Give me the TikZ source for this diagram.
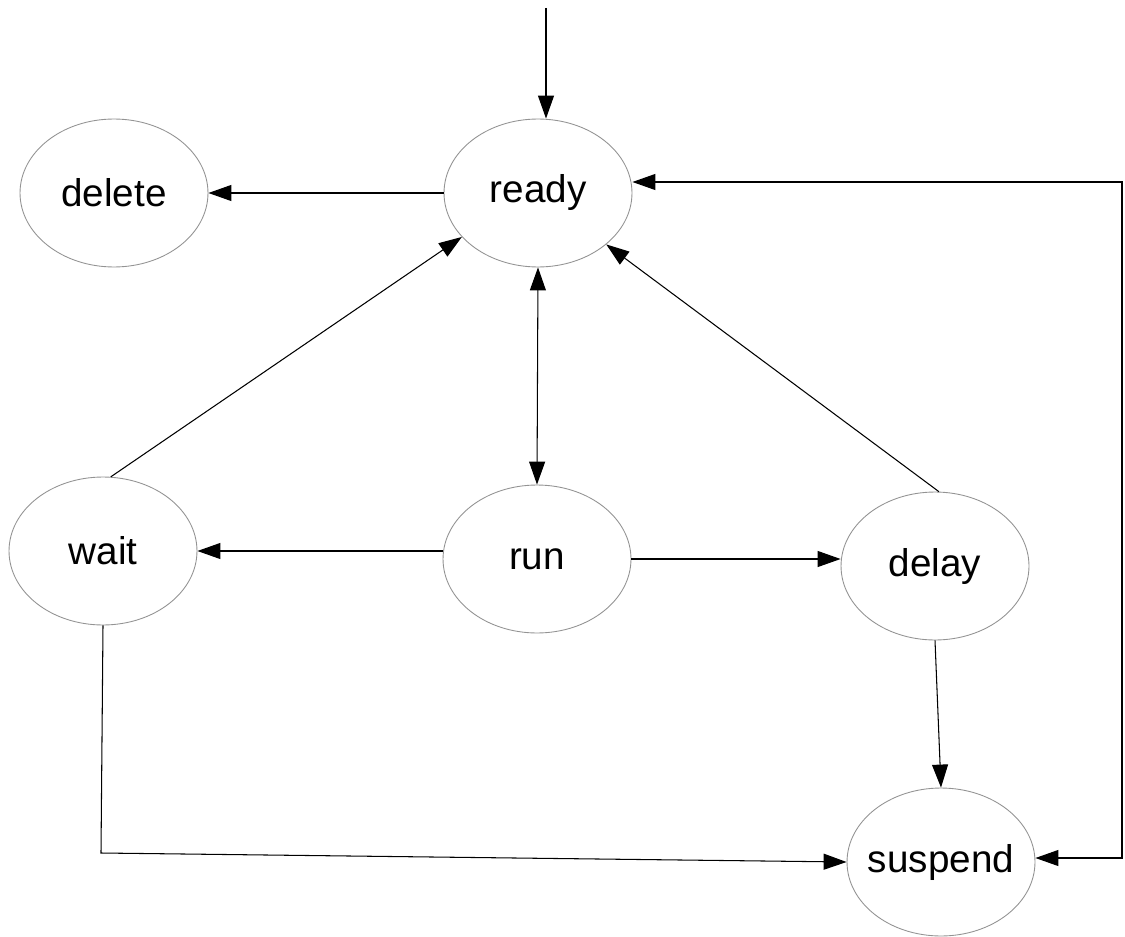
\documentclass[tikz,border=0pt]{standalone}
\usepackage{fontspec}
\setmainfont{Liberation Sans}
\usetikzlibrary{arrows.meta,shapes.geometric}

\begin{document}
\begin{tikzpicture}[x=0.02cm,y=-0.02cm,line width=0.6pt]
	\tikzset{>={Triangle[length=0.46cm,width=0.32cm]}}
	\tikzset{state/.style={ellipse,draw=gray!85,line width=0.5pt,minimum width=3.76cm,minimum height=2.96cm,inner xsep=-0.25cm,inner ysep=0pt,font=\fontsize{22}{26}\selectfont}}
	\useasboundingbox (0,0) rectangle (1125,936);
	\node[state] (ready) at (538,193) {ready};
	\node[state] (delete) at (114,193) {delete};
	\node[state] (wait) at (103,551) {wait};
	\node[state] (run) at (537,559) {run};
	\node[state] (delay) at (935,566) {delay};
	\node[state] (suspend) at (941,862) {suspend};
	\coordinate (start) at (546,8);
	\coordinate (wcorner) at (101,853);
	\coordinate (rtop) at (1122,182);
	\coordinate (rbot) at (1122,858);
	\draw[->] (start) -- (start |- ready.north);
	\draw[->] (ready.west) -- (delete.east);
	\draw[<->] (ready.south) -- (run.north);
	\draw[->] (wait.84) -- (ready.210);
	\draw[->] (delay.87) -- (ready.-37);
	\draw[->] (run.west |- wait.east) -- (wait.east);
	\draw[->] (run.east) -- (run.east -| delay.west);
	\draw[->] (delay.south) -- (suspend.north);
	\draw[->] (wait.south) -- (wcorner) -- (suspend.west);
	\draw[<->] (ready.east |- rtop) -- (rtop) -- (rbot) -- (suspend.east |- rbot);
\end{tikzpicture}
\end{document}
